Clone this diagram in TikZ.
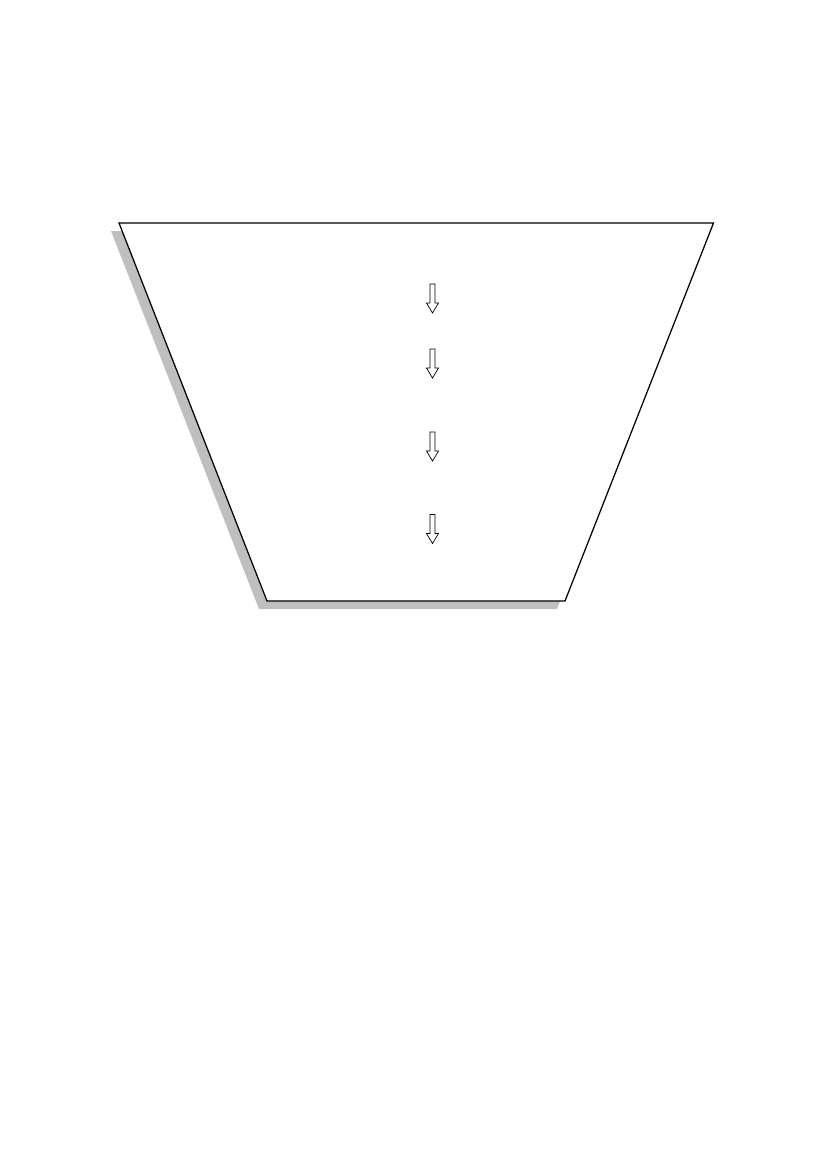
\documentclass[tikz,border=0pt]{standalone}
\usetikzlibrary{positioning}

\tikzset{
  outline/.style={draw=black, line width=0.9pt, fill=white, line join=miter},
  dropshadow/.style={fill=black!25, draw=none},
  hollow/.style={draw=black, line width=0.5pt, fill=white},
  downarrow/.pic={
    \draw[hollow] (-2.5,-14.5) -- (2.5,-14.5) -- (2.5,4.5) -- (6,4.5)
      -- (0,14.5) -- (-6,4.5) -- (-2.5,4.5) -- cycle;
  }
}

\begin{document}
\begin{tikzpicture}[x=0.72pt, y=-0.72pt]
\useasboundingbox (0,0) rectangle (827,1169);
% corners of the funnel
\coordinate (tl) at (119,223);
\coordinate (tr) at (713.5,223);
\coordinate (br) at (565,601);
\coordinate (bl) at (267,601);
% shadow
\fill[dropshadow] ([shift={(-8,8)}]tl) -- ([shift={(-8,8)}]tr)
  -- ([shift={(-8,8)}]br) -- ([shift={(-8,8)}]bl) -- cycle;
\draw[outline] (tl) -- (tr) -- (br) -- (bl) -- cycle;
% arrows
\coordinate (s1) at (432.5,298.5);
\coordinate (s2) at (432.5,363.5);
\coordinate (s3) at (432.5,446.5);
\coordinate (s4) at (432.5,529);
\foreach \s in {s1,s2,s3,s4}
  \pic at (\s) {downarrow};
\end{tikzpicture}
\end{document}
